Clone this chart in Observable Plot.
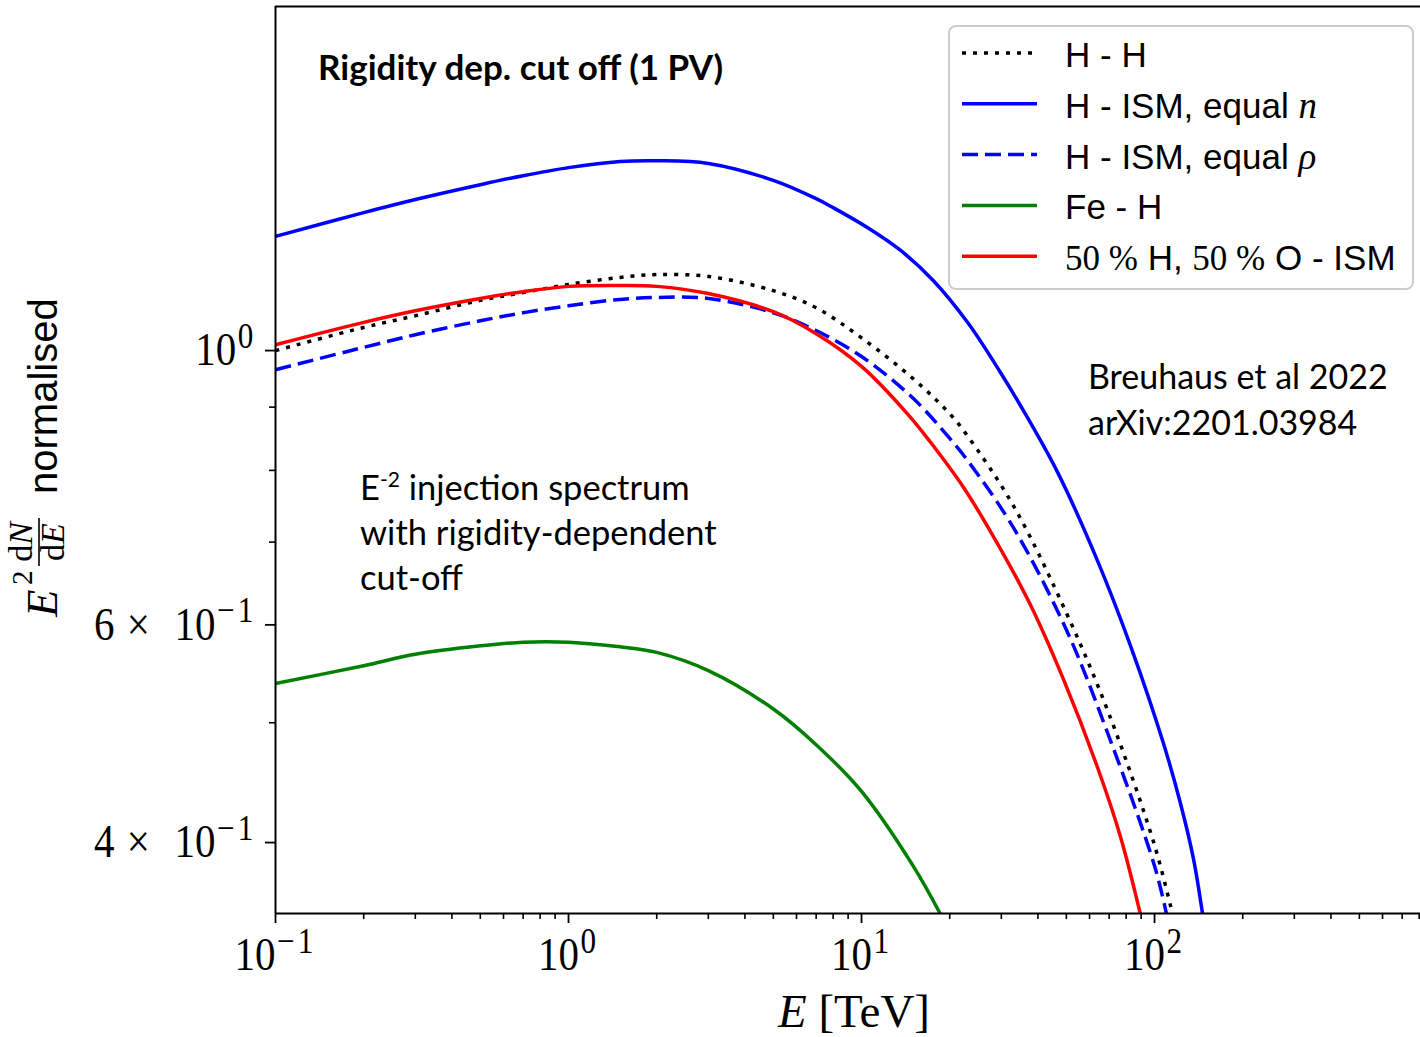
<!DOCTYPE html>
<html>
<head>
<meta charset="utf-8">
<script src="https://cdn.jsdelivr.net/npm/d3@7"></script>
<script src="https://cdn.jsdelivr.net/npm/@observablehq/plot@0.6"></script>
<style>
  html, body { margin: 0; padding: 0; background: #ffffff; overflow: hidden; }
  #chart { width: 1420px; height: 1037px; }
  svg { display: block; }
</style>
</head>
<body>
<div id="chart"></div>
<script>
// ---------------- data ----------------
const seriesNames  = ["H - H", "H - ISM, equal n", "H - ISM, equal ρ", "Fe - H", "50 % H, 50 % O - ISM"];
const seriesColors = ["#000000", "#0000ff", "#0000ff", "#008000", "#ff0000"];
const seriesDash   = ["4,7", null, "16,7", null, null];

// H - H (dotted black)
const hhE = [0.1, 0.2, 0.3, 0.5, 0.7, 1, 1.5, 2, 3, 5, 7, 10, 15, 20, 23, 33, 50.1, 70.2, 100, 115.2];
const hhV = [1.0, 1.044, 1.067, 1.098, 1.114, 1.131, 1.146, 1.152, 1.148, 1.118, 1.083, 1.024, 0.949, 0.889, 0.853, 0.749, 0.613, 0.507, 0.398, 0.350];

// H - ISM, equal n (solid blue)
const ismNE = [0.1, 0.2, 0.3, 0.5, 0.7, 1, 1.5, 2, 3, 5, 7, 8.0, 10.5, 13.6, 17.6, 23.0, 29.8, 35.7, 46.7, 63.9, 82.8, 107.3, 122.7, 135.8, 145.9];
const ismNV = [1.237, 1.293, 1.325, 1.362, 1.385, 1.406, 1.422, 1.424, 1.417, 1.373, 1.327, 1.305, 1.257, 1.205, 1.139, 1.054, 0.960, 0.894, 0.797, 0.676, 0.577, 0.481, 0.430, 0.388, 0.350];

// H - ISM, equal rho (dashed blue)
const ismRhoE = [0.1, 0.2, 0.3, 0.5, 0.7, 1, 1.5, 2, 3, 5, 7, 10, 15, 20, 23, 33, 50.1, 70.2, 100, 109.9];
const ismRhoV = [0.965, 1.006, 1.030, 1.057, 1.073, 1.087, 1.100, 1.104, 1.102, 1.073, 1.038, 0.989, 0.915, 0.849, 0.815, 0.719, 0.594, 0.486, 0.383, 0.350];

// Fe - H (solid green)
const feHE = [0.1, 0.2, 0.3, 0.5, 0.7, 1, 1.5, 2, 3, 5, 7, 10, 15, 18.6];
const feHV = [0.538, 0.556, 0.568, 0.577, 0.581, 0.581, 0.576, 0.570, 0.551, 0.513, 0.480, 0.440, 0.383, 0.350];

// 50% H, 50% O - ISM (solid red)
const mixE = [0.1, 0.2, 0.3, 0.5, 0.7, 1, 1.5, 2, 3, 5, 7, 10, 14.4, 17.2, 22.3, 29.1, 37.8, 48.9, 63.9, 76.6, 89.5];
const mixV = [1.011, 1.054, 1.077, 1.102, 1.116, 1.127, 1.129, 1.127, 1.112, 1.075, 1.032, 0.971, 0.888, 0.843, 0.775, 0.698, 0.622, 0.542, 0.460, 0.404, 0.350];

// axes
const xDomain = [0.1, 808.5];
const yDomain = [0.3505, 1.898];
const xMajorTicks = [0.1, 1, 10, 100];
const xTickLabels = ["10^{−1}", "10^{0}", "10^{1}", "10^{2}"];
const xMinorTicks = [0.2, 0.3, 0.4, 0.5, 0.6, 0.7, 0.8, 0.9,
                     2, 3, 4, 5, 6, 7, 8, 9,
                     20, 30, 40, 50, 60, 70, 80, 90,
                     200, 300, 400, 500, 600, 700, 800];
const yMajorTicks = [0.4, 0.6, 1];
const yTickLabels = ["4×10^{−1}", "6×10^{−1}", "10^{0}"];
const yMinorTicks = [0.5, 0.7, 0.8, 0.9];

// annotations
const titleText = "Rigidity dep. cut off (1 PV)";
const noteLines = [["E", "-2", " injection spectrum"], ["with rigidity-dependent"], ["cut-off"]];
const refLines = ["Breuhaus et al 2022", "arXiv:2201.03984"];

// ---------------- build ----------------
const seriesE = [hhE, ismNE, ismRhoE, feHE, mixE];
const seriesV = [hhV, ismNV, ismRhoV, feHV, mixV];
const rows = seriesNames.flatMap((name, k) => seriesE[k].map((e, i) => ({series: name, E: e, V: seriesV[k][i]})));

const SERIF = "'Liberation Serif', 'DejaVu Serif', serif";
const SANS = "'Liberation Sans', 'DejaVu Sans', sans-serif";
const NOTE = "Lato, 'Open Sans', sans-serif";
const VS = 1.12; // vertical stretch of the reference's math labels

const chart = Plot.plot({
  width: 1420,
  height: 1037,
  marginLeft: 275,
  marginRight: 0,
  marginTop: 6,
  marginBottom: 124,
  style: {background: "#ffffff", color: "#000000", fontFamily: SERIF, fontSize: "41px"},
  x: {type: "log", domain: xDomain, label: null},
  y: {type: "log", domain: yDomain, label: null},
  marks: [
    Plot.axisX(xMinorTicks, {tickSize: 6, strokeWidth: 1.6, tickFormat: () => "", label: null}),
    Plot.axisX(xMajorTicks, {tickSize: 10, tickPadding: 14, strokeWidth: 1.8, fontSize: 41, label: null,
      tickFormat: d => xTickLabels[xMajorTicks.indexOf(d)]}),
    Plot.axisY(yMinorTicks, {tickSize: 6, strokeWidth: 1.6, tickFormat: () => "", label: null}),
    Plot.axisY(yMajorTicks, {tickSize: 10, tickPadding: 9, strokeWidth: 1.8, fontSize: 41, label: null,
      tickFormat: d => yTickLabels[yMajorTicks.indexOf(d)]}),
    ...seriesNames.map((name, k) => Plot.line(rows.filter(r => r.series === name), {
      x: "E", y: "V", stroke: seriesColors[k], strokeWidth: 3.5,
      strokeDasharray: seriesDash[k], strokeLinecap: "butt",
      curve: "catmull-rom", clip: true
    })),
    Plot.ruleX([xDomain[0]], {stroke: "#000000", strokeWidth: 2}),
    Plot.ruleY(yDomain, {stroke: "#000000", strokeWidth: 2})
  ]
});
document.getElementById("chart").appendChild(chart);

const svg = d3.select(chart);

// tick labels with superscripts, stretched like the reference
svg.selectAll('g[aria-label$="tick label"] text').each(function () {
  const el = d3.select(this);
  const raw = el.text();
  if (!raw) return;
  const m = raw.match(/^(.*)\^\{(.*)\}$/);
  el.text(null);
  const base = m ? m[1] : raw;
  if (base.includes("×")) {
    const [a, b] = base.split("×");
    el.append("tspan").text(a);
    el.append("tspan").attr("dx", "0.3em").text("×");
    el.append("tspan").attr("dx", "0.6em").text(b);
  } else {
    el.append("tspan").text(base);
  }
  if (m) el.append("tspan").attr("font-size", "0.76em").attr("letter-spacing", "0.1em")
    .attr("dy", "-0.5em").attr("dx", "0.05em").text(m[2]);
  const tr = el.attr("transform") || "";
  el.attr("transform", tr + ` scale(1,${VS})`);
});

// x axis label
{
  const t = svg.append("text").attr("x", 854).attr("y", 1027).attr("text-anchor", "middle")
    .attr("font-family", SERIF).attr("font-size", 47).attr("fill", "#000");
  t.append("tspan").attr("font-style", "italic").text("E");
  t.append("tspan").text(" [TeV]");
}

// y axis label (rotated)
{
  const g = svg.append("g").attr("transform", "translate(57,620) rotate(-90)").attr("fill", "#000").attr("text-anchor", "start");
  g.append("text").attr("x", 3).attr("y", 0).attr("font-family", SERIF).attr("font-style", "italic").attr("font-size", 45).text("E");
  g.append("text").attr("x", 35).attr("y", -25).attr("font-family", SERIF).attr("font-size", 29).text("2");
  const num = g.append("text").attr("x", 78).attr("y", -25).attr("text-anchor", "middle").attr("font-family", SERIF).attr("font-size", 34);
  num.append("tspan").text("d");
  num.append("tspan").attr("font-style", "italic").text("N");
  g.append("line").attr("x1", 54).attr("x2", 102).attr("y1", -18).attr("y2", -18).attr("stroke", "#000").attr("stroke-width", 1.6);
  const den = g.append("text").attr("x", 78).attr("y", 7).attr("text-anchor", "middle").attr("font-family", SERIF).attr("font-size", 34);
  den.append("tspan").text("d");
  den.append("tspan").attr("font-style", "italic").text("E");
  g.append("text").attr("x", 126).attr("y", 0).attr("font-family", SANS).attr("font-size", 40).text("normalised");
}

// legend
{
  const lg = svg.append("g").attr("text-anchor", "start");
  lg.append("rect").attr("x", 949).attr("y", 26).attr("width", 464).attr("height", 263).attr("rx", 7)
    .attr("fill", "#ffffff").attr("fill-opacity", 0.8).attr("stroke", "#cccccc").attr("stroke-width", 2);
  seriesNames.forEach((name, i) => {
    const yb = 67 + i * 50.8;
    lg.append("line").attr("x1", 962).attr("x2", 1037).attr("y1", yb - 14).attr("y2", yb - 14)
      .attr("stroke", seriesColors[i]).attr("stroke-width", 3.5).attr("stroke-dasharray", seriesDash[i]);
    const t = lg.append("text").attr("x", 1065).attr("y", yb).attr("text-anchor", "start")
      .attr("font-family", SANS).attr("font-size", 35).attr("fill", "#000");
    name.split(/(\d+ %|ρ$|\bn$)/).filter(p => p !== "").forEach(p => {
      const sp = t.append("tspan").text(p);
      if (/^\d+ %$/.test(p)) sp.attr("font-family", SERIF).attr("font-size", 35);
      if (p === "n" || p === "ρ") sp.attr("font-family", SERIF).attr("font-style", "italic").attr("font-size", 37);
    });
  });
}

// annotations
svg.append("text").attr("x", 318).attr("y", 80).attr("text-anchor", "start")
  .attr("font-family", NOTE).attr("font-weight", 700).attr("font-size", 35).attr("fill", "#000").text(titleText);
noteLines.forEach((parts, i) => {
  const t = svg.append("text").attr("x", 360).attr("y", 500 + i * 45).attr("text-anchor", "start")
    .attr("font-family", NOTE).attr("font-size", 34.5).attr("fill", "#000");
  if (parts.length === 3) {
    t.append("tspan").text(parts[0]);
    t.append("tspan").attr("font-size", 21).attr("dy", -13).text(parts[1]);
    t.append("tspan").attr("dy", 13).text(parts[2]);
  } else {
    t.text(parts[0]);
  }
});
refLines.forEach((line, i) => {
  svg.append("text").attr("x", 1088).attr("y", 389 + i * 46).attr("text-anchor", "start")
    .attr("font-family", NOTE).attr("font-size", 34).attr("fill", "#000").text(line);
});
</script>
</body>
</html>
